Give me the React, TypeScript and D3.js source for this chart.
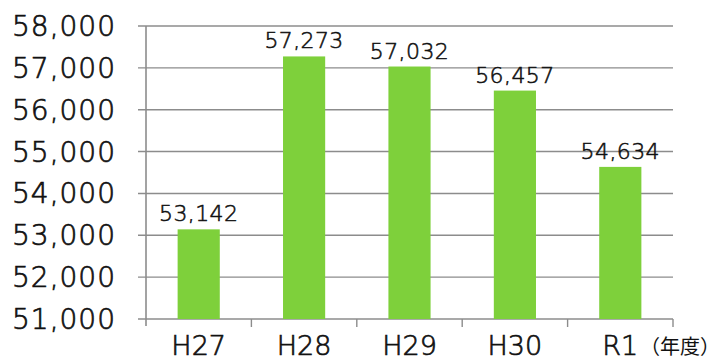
import React from "react";
import * as d3 from "d3";

const categories = ["H27", "H28", "H29", "H30", "R1"];
const values = [53142, 57273, 57032, 56457, 54634];
const yTicks = [51000, 52000, 53000, 54000, 55000, 56000, 57000, 58000];
const unitLabel = "（年度）";

const W = 719;
const H = 361;
const left = 146;
const right = 673;
const top = 26;
const bottom = 319;
const FONT = "'DejaVu Sans', sans-serif";

export default function App() {
  const x = d3.scaleBand<string>().domain(categories).range([left, right]).paddingInner(0.6).paddingOuter(0.3);
  const y = d3.scaleLinear().domain([51000, 58000]).range([bottom, top]);
  const fmt = d3.format(",");
  const bandStep = (right - left) / categories.length;
  const grid = "#8c8c8c";
  const ink = "#111";

  return (
    <svg width={W} height={H} style={{ position: "absolute", left: 0, top: 0, background: "#fff" }}>
      {yTicks.map((t) => (
        <g key={t}>
          <line x1={138} x2={right} y1={y(t)} y2={y(t)} stroke={grid} strokeWidth={1.4} />
          <text
            x={116}
            y={y(t) + 10}
            textAnchor="end"
            fontFamily={FONT}
            fontWeight={200}
            fontSize={28}
            fill={ink}
            stroke={ink}
            strokeWidth={0.7}
            letterSpacing={1}
          >
            {fmt(t)}
          </text>
        </g>
      ))}
      <line x1={left} x2={left} y1={top} y2={326} stroke={grid} strokeWidth={1.6} />
      {categories.map((c, i) => (
        <line
          key={"tk" + c}
          x1={left + bandStep * (i + 1)}
          x2={left + bandStep * (i + 1)}
          y1={bottom}
          y2={327}
          stroke={grid}
          strokeWidth={1.4}
        />
      ))}
      {categories.map((c, i) => (
        <g key={c}>
          <rect
            x={x(c)}
            y={y(values[i])}
            width={x.bandwidth()}
            height={bottom - y(values[i])}
            fill="#7ED03B"
          />
          <text
            x={(x(c) as number) + x.bandwidth() / 2}
            y={y(values[i]) - 8}
            textAnchor="middle"
            fontFamily={FONT}
            fontWeight={200}
            fontSize={22}
            fill={ink}
            stroke={ink}
            strokeWidth={0.55}
            letterSpacing={0.4}
          >
            {fmt(values[i])}
          </text>
          <text
            x={(x(c) as number) + x.bandwidth() / 2}
            y={355}
            textAnchor="middle"
            fontFamily={FONT}
            fontWeight={200}
            fontSize={27}
            fill={ink}
            stroke={ink}
            strokeWidth={0.7}
          >
            {c}
          </text>
        </g>
      ))}
      <text x={640} y={354} fontFamily="'Noto Sans CJK JP', sans-serif" fontWeight={400} fontSize={20} fill={ink}>
        {unitLabel}
      </text>
    </svg>
  );
}
